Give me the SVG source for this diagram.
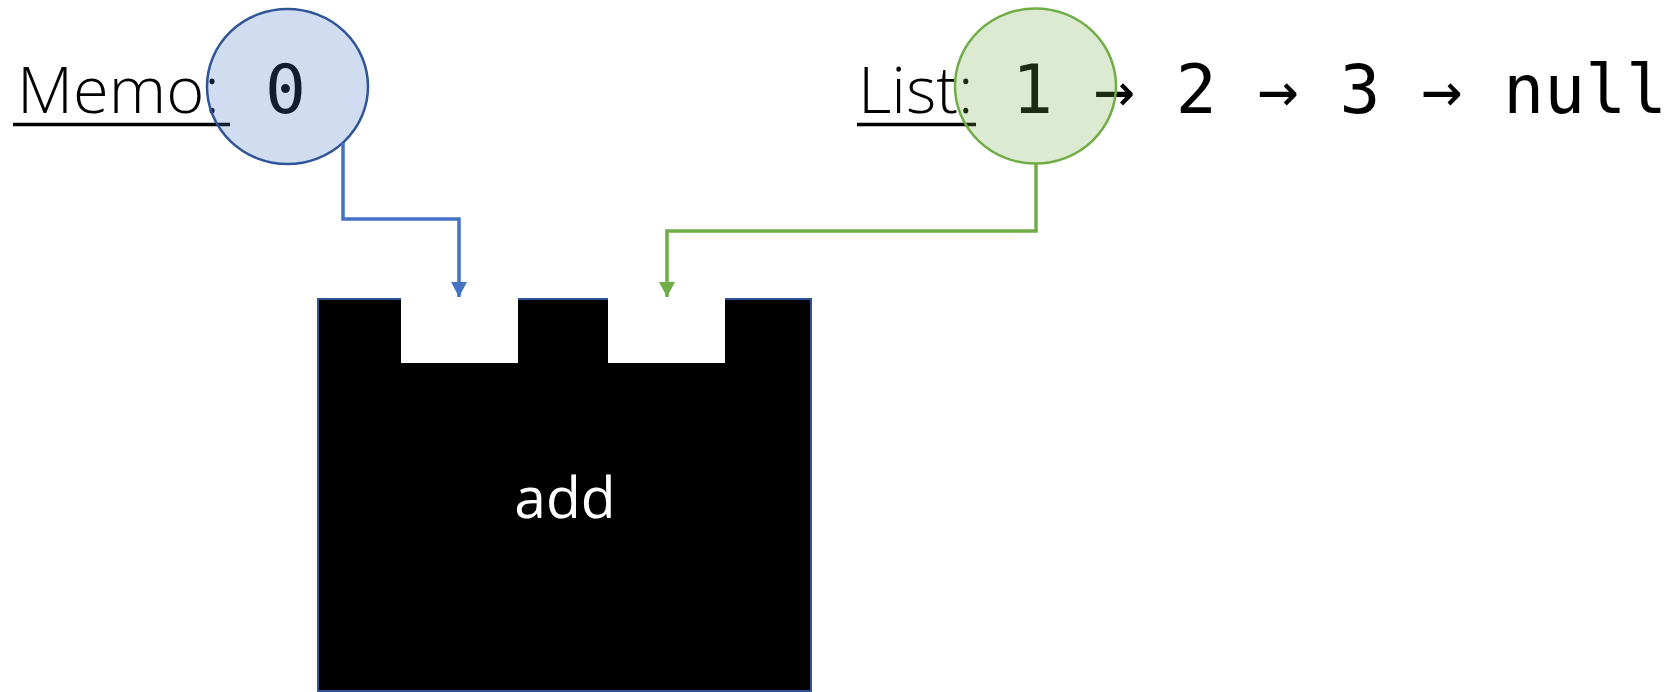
<svg xmlns="http://www.w3.org/2000/svg" width="1673" height="692" viewBox="0 0 1673 692">
<style>
.lbl{font-family:"Open Sans","Liberation Sans",sans-serif;font-weight:300;font-size:65px;fill:#000}
.mono{font-family:"DejaVu Sans Mono","Liberation Mono",monospace;font-size:68px;fill:#000}
.ul{stroke:#000;stroke-width:3.5}
.conn{fill:none;stroke-width:3.5}
</style>
<defs>
<marker id="ab" markerUnits="userSpaceOnUse" markerWidth="16" markerHeight="16" viewBox="0 0 16 16" refX="15" refY="8" orient="auto"><path d="M0,0 L15,8 L0,16 Z" fill="#4472C4"/></marker>
<marker id="ag" markerUnits="userSpaceOnUse" markerWidth="16" markerHeight="16" viewBox="0 0 16 16" refX="15" refY="8" orient="auto"><path d="M0,0 L15,8 L0,16 Z" fill="#70AD47"/></marker>
</defs>
<rect width="1673" height="692" fill="#fff"/>
<g id="memo-label">
<text class="lbl" x="17" y="113">Memo:</text>
<line class="ul" x1="13" y1="124.5" x2="230" y2="124.5"/>
<text class="mono" x="285.5" y="113" text-anchor="middle">0</text>
</g>
<g id="list-label">
<text class="lbl" x="858" y="113">List:</text>
<line class="ul" x1="857" y1="124.5" x2="976" y2="124.5"/>
<text class="mono" x="1012" y="113">1 → 2 → 3 → null</text>
</g>
<g id="add">
<rect x="318" y="299" width="493" height="392" fill="#000" stroke="#2F5597" stroke-width="2"/>
<rect x="401" y="297" width="117" height="66" fill="#fff"/>
<rect x="608" y="297" width="117" height="66" fill="#fff"/>
<text x="565" y="518" text-anchor="middle" font-family="Open Sans, Liberation Sans, sans-serif" font-size="57" fill="#fff">add</text>
</g>
<g id="memo-circle">
<ellipse cx="287.5" cy="86.5" rx="80.5" ry="77.5" fill="#4472C4" fill-opacity="0.25" stroke="#2F5597" stroke-width="2.5"/>
</g>
<g id="list-circle">
<ellipse cx="1035.5" cy="86" rx="80.5" ry="77.5" fill="#70AD47" fill-opacity="0.25" stroke="#70AD47" stroke-width="2.5"/>
</g>
<g id="connectors">
<path class="conn" stroke="#4472C4" d="M343,143 V219 H459 V297" marker-end="url(#ab)"/>
<path class="conn" stroke="#70AD47" d="M1036,164 V231 H667 V297" marker-end="url(#ag)"/>
</g>
</svg>
